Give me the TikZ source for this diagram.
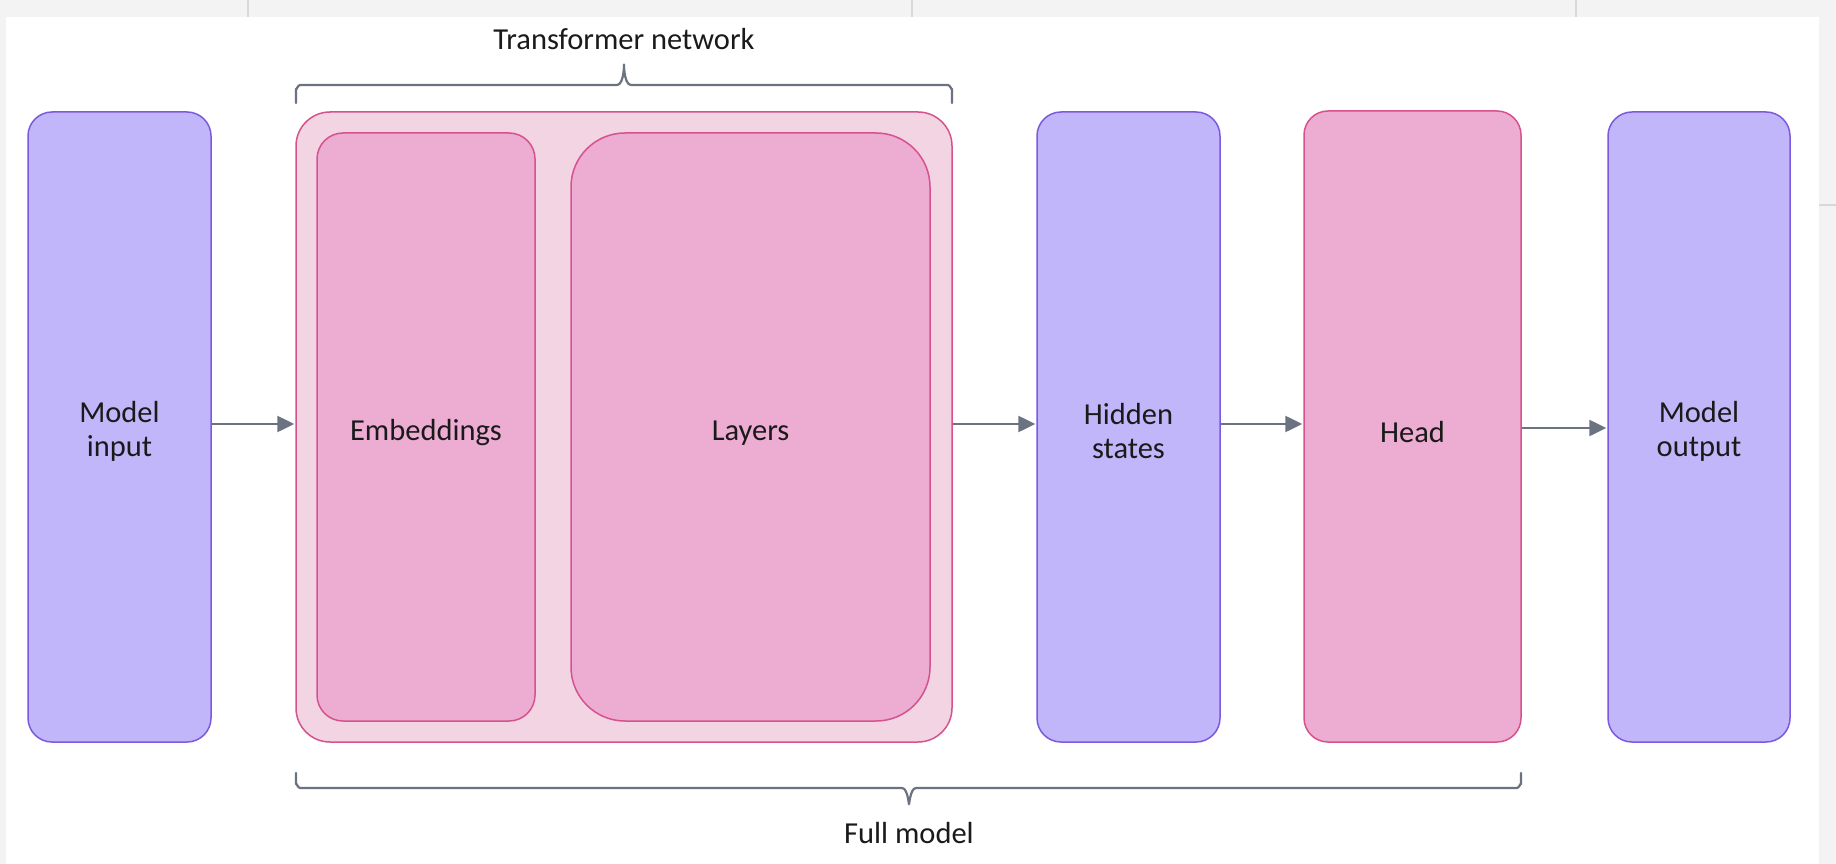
\documentclass[tikz,border=0pt]{standalone}
\usepackage{fontspec}
\setmainfont{Carlito}
\usetikzlibrary{arrows.meta}

\definecolor{pagegray}{HTML}{F3F3F3}
\definecolor{gridgray}{HTML}{D8D8D8}
\definecolor{purplefill}{HTML}{C1B6F9}
\definecolor{purpleline}{HTML}{7B5AE0}
\definecolor{pinkfill}{HTML}{EDACD2}
\definecolor{pinkline}{HTML}{D5528D}
\definecolor{palepink}{HTML}{F2D4E3}
\definecolor{slate}{HTML}{6B7280}
\definecolor{ink}{HTML}{1A1A1A}

\tikzset{
  block/.style={rectangle, draw, line width=1.5pt, inner sep=0pt},
  ioblock/.style={block, fill=purplefill, draw=purpleline, rounded corners=24pt},
  pinkblock/.style={block, fill=pinkfill, draw=pinkline},
  outerblock/.style={block, fill=palepink, draw=pinkline, rounded corners=34pt},
  caption/.style={text=ink, font=\fontsize{30.5}{34}\selectfont, inner sep=0pt, align=center},
  flow/.style={draw=slate, line width=2.5pt,
    -{Triangle[length=17pt,width=16pt]}, shorten >=1pt},
  bracepath/.style={draw=slate, line width=2.2pt, line join=round, line cap=round},
}

\begin{document}
\begin{tikzpicture}[x=1pt, y=-1pt]
  \useasboundingbox (0,0) rectangle (1836,864);
  % page surroundings
  \fill[pagegray] (0,0) rectangle (1836,864);
  \fill[white] (6,17) rectangle (1819,864);
  \foreach \gx in {248,912,1576} \draw[gridgray, line width=1.2pt] (\gx,0) -- (\gx,17);
  \draw[gridgray, line width=1.2pt] (1819,205) -- (1836,205);

  % blocks
  \node[ioblock, minimum width=183pt, minimum height=630pt] (input) at (119.5,427) {};
  \node[outerblock, minimum width=656pt, minimum height=630pt] (tnet) at (624,427) {};
  \node[pinkblock, rounded corners=26pt, minimum width=218pt, minimum height=588pt] (emb) at (426,427) {};
  \node[pinkblock, rounded corners=54pt, minimum width=359pt, minimum height=588pt] (layers) at (750.5,427) {};
  \node[ioblock, minimum width=183pt, minimum height=630pt] (hidden) at (1128.5,427) {};
  \node[pinkblock, rounded corners=24pt, minimum width=217pt, minimum height=631pt] (head) at (1412.5,426.5) {};
  \node[ioblock, minimum width=182pt, minimum height=630pt] (output) at (1699,427) {};

  % block labels
  \node[caption] (inputtxt)  at ([yshift=-4pt]input.center)  {Model\\input};
  \node[caption] (embtxt)    at ([yshift=-6pt]emb.center)    {Embeddings};
  \node[caption] (layerstxt) at ([yshift=-6pt]layers.center) {Layers};
  \node[caption] (hiddentxt) at ([yshift=-4pt]hidden.center) {Hidden\\states};
  \node[caption] (headtxt)   at ([yshift=-6pt]head.center)   {Head};
  \node[caption] (outputtxt) at ([yshift=-4pt]output.center) {Model\\output};

  % data flow
  \draw[flow] (input.east |- 0,424) -- (tnet.west |- 0,424);
  \draw[flow] (tnet.east |- 0,424) -- (hidden.west |- 0,424);
  \draw[flow] (hidden.east |- 0,424) -- (head.west |- 0,424);
  \draw[flow] (head.east |- 0,428) -- (output.west |- 0,428);

  % brace over the transformer network
  \draw[bracepath] (296,103) -- (296,89) to[out=-90,in=180] (300,85)
    -- (617,85) to[out=0,in=90] (624,66) to[out=90,in=180] (631,85)
    -- (948,85) to[out=0,in=-90] (952,89) -- (952,103);
  \node[caption] (tnlabel) at (624,39) {Transformer network};

  % brace under the full model
  \draw[bracepath] (296,773) -- (296,784) to[out=90,in=180] (300,788)
    -- (902,788) to[out=0,in=-90] (909,803) to[out=-90,in=180] (916,788)
    -- (1517,788) to[out=0,in=90] (1521,784) -- (1521,773);
  \node[caption] (fmlabel) at (909,833) {Full model};
\end{tikzpicture}
\end{document}
